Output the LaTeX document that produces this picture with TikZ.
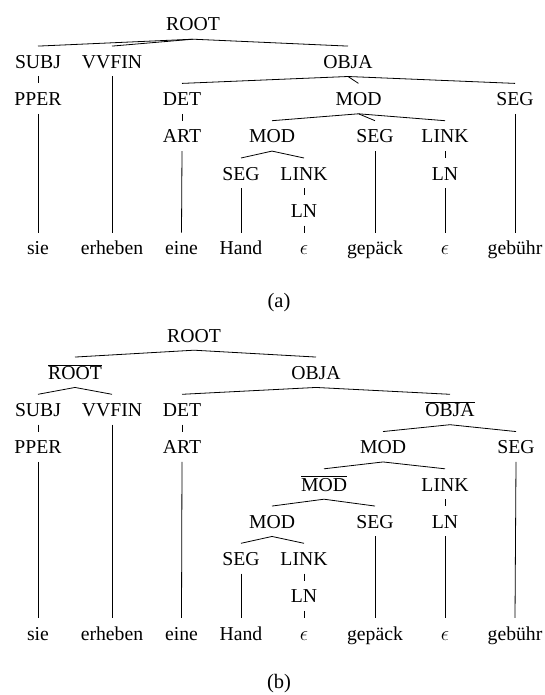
\documentclass[tikz,border=0pt]{standalone}
\usepackage{fontspec}
\setmainfont{Liberation Serif}
\begin{document}
\begin{tikzpicture}[x=1pt,y=-1pt,
  lab/.style={anchor=base, text height=14pt, text depth=0pt, inner xsep=0pt, inner ysep=8pt, font=\fontsize{19.7}{22}\selectfont},
  subcap/.style={anchor=base, inner sep=0pt, font=\fontsize{20.5}{24}\selectfont},
  edge/.style={line width=0.8pt}]
\useasboundingbox (0,0) rectangle (545,695);
% ---------------- (a) ----------------
\def\ra{31}\def\rb{68.3}\def\rc{105.6}\def\rd{142.9}\def\re{180.2}\def\rf{217.5}\def\rg{254.8}
\node[lab] (aROOT) at (193,\ra) {ROOT};
\node[lab] (aSUBJ) at (38,\rb) {SUBJ};
\node[lab] (aVVFIN) at (112,\rb) {VVFIN};
\node[lab] (aOBJA) at (348,\rb) {OBJA};
\node[lab] (aPPER) at (38,\rc) {PPER};
\node[lab] (aDET) at (182,\rc) {DET};
\node[lab] (aMODa) at (358.5,\rc) {MOD};
\node[lab] (aSEGa) at (515,\rc) {SEG};
\node[lab] (aART) at (182,\rd) {ART};
\node[lab] (aMODb) at (272,\rd) {MOD};
\node[lab] (aSEGb) at (375,\rd) {SEG};
\node[lab] (aLINKa) at (445,\rd) {LINK};
\node[lab] (aSEGc) at (241,\re) {SEG};
\node[lab] (aLINKb) at (304,\re) {LINK};
\node[lab] (aLNa) at (445,\re) {LN};
\node[lab] (aLNb) at (304,\rf) {LN};
\node[lab] (aw1) at (38,\rg) {sie};
\node[lab] (aw2) at (112,\rg) {erheben};
\node[lab] (aw3) at (181.5,\rg) {eine};
\node[lab] (aw4) at (241,\rg) {Hand};
\node[lab] (aw5) at (304,\rg) {$\epsilon$};
\node[lab] (aw6) at (375,\rg) {gepäck};
\node[lab] (aw7) at (445,\rg) {$\epsilon$};
\node[lab] (aw8) at (515,\rg) {gebühr};
\node[subcap] (acap) at (279,307.5) {(a)};
\foreach \p/\c in {aROOT/aSUBJ,aROOT/aVVFIN,aROOT/aOBJA,aSUBJ/aPPER,aPPER/aw1,aVVFIN/aw2,
  aOBJA/aDET,aOBJA/aMODa,aOBJA/aSEGa,aDET/aART,aART/aw3,aMODa/aMODb,aMODa/aSEGb,aMODa/aLINKa,
  aMODb/aSEGc,aMODb/aLINKb,aSEGc/aw4,aLINKb/aLNb,aLNb/aw5,aSEGb/aw6,aLINKa/aLNa,aLNa/aw7,aSEGa/aw8}
  \draw[edge] (\p.south) -- (\c.north);
% ---------------- (b) ----------------
\def\sa{342}\def\sb{379.25}\def\sc{416.5}\def\sd{453.75}\def\se{491}\def\sf{528.25}\def\sg{565.5}\def\sh{602.75}\def\si{640}
\node[lab] (bROOT) at (194,\sa) {ROOT};
\node[lab] (bROOTb) at (75,\sb) {$\overline{\hbox{ROOT}}$};
\node[lab] (bOBJA) at (316,\sb) {OBJA};
\node[lab] (bSUBJ) at (38,\sc) {SUBJ};
\node[lab] (bVVFIN) at (112,\sc) {VVFIN};
\node[lab] (bDET) at (182,\sc) {DET};
\node[lab] (bOBJAb) at (450,\sc) {$\overline{\hbox{OBJA}}$};
\node[lab] (bPPER) at (38,\sd) {PPER};
\node[lab] (bART) at (182,\sd) {ART};
\node[lab] (bMODa) at (383,\sd) {MOD};
\node[lab] (bSEGa) at (516,\sd) {SEG};
\node[lab] (bMODbar) at (324,\se) {$\overline{\hbox{MOD}}$};
\node[lab] (bLINKa) at (445,\se) {LINK};
\node[lab] (bMODb) at (272,\sf) {MOD};
\node[lab] (bSEGb) at (375,\sf) {SEG};
\node[lab] (bLNa) at (445,\sf) {LN};
\node[lab] (bSEGc) at (241,\sg) {SEG};
\node[lab] (bLINKb) at (304,\sg) {LINK};
\node[lab] (bLNb) at (304,\sh) {LN};
\node[lab] (bw1) at (38,\si) {sie};
\node[lab] (bw2) at (112,\si) {erheben};
\node[lab] (bw3) at (181.5,\si) {eine};
\node[lab] (bw4) at (241,\si) {Hand};
\node[lab] (bw5) at (304,\si) {$\epsilon$};
\node[lab] (bw6) at (375,\si) {gepäck};
\node[lab] (bw7) at (445,\si) {$\epsilon$};
\node[lab] (bw8) at (515,\si) {gebühr};
\node[subcap] (bcap) at (279,688) {(b)};
\foreach \p/\c in {bROOT/bROOTb,bROOT/bOBJA,bROOTb/bSUBJ,bROOTb/bVVFIN,bSUBJ/bPPER,bPPER/bw1,bVVFIN/bw2,
  bOBJA/bDET,bOBJA/bOBJAb,bDET/bART,bART/bw3,bOBJAb/bMODa,bOBJAb/bSEGa,bMODa/bMODbar,bMODa/bLINKa,
  bMODbar/bMODb,bMODbar/bSEGb,bMODb/bSEGc,bMODb/bLINKb,bSEGc/bw4,bLINKb/bLNb,bLNb/bw5,bSEGb/bw6,
  bLINKa/bLNa,bLNa/bw7,bSEGa/bw8}
  \draw[edge] (\p.south) -- (\c.north);
\end{tikzpicture}
\end{document}
